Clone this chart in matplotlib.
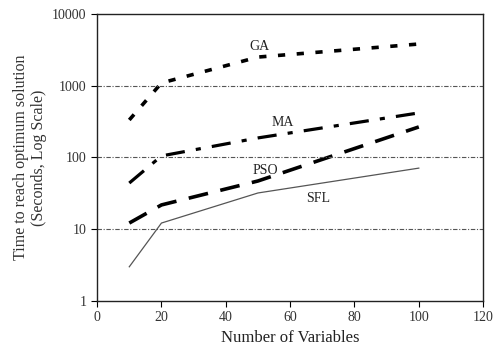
import matplotlib
matplotlib.use('Agg')
from matplotlib import pyplot as plt

# data (seconds, log scale)
variables = [10, 20, 50, 100]
ga = [333, 1090, 2500, 3800]
ma = [44, 105, 187, 417]
pso = [12.2, 21.8, 47, 266]
sfl = [3.0, 12.2, 32, 71]

plt.rcParams['font.family'] = ['Liberation Serif', 'DejaVu Serif']

fig = plt.figure(figsize=(4.93, 3.55), dpi=100)
ax = fig.add_axes([0.197, 0.152, 0.783, 0.809])

ax.plot(variables, ga, color='black', lw=2.6, dashes=(2.0, 3.2), dash_capstyle='butt')
ax.plot(variables, ma, color='black', lw=2.3, dashes=(6, 3.5, 1.6, 3.5), dash_capstyle='butt')
ax.plot(variables, pso, color='black', lw=2.6, dashes=(5.5, 3.5), dash_capstyle='butt')
ax.plot(variables, sfl, color='#555555', lw=0.9)

# series labels
ax.text(50.4, 3470, 'GA', ha='center', va='center', fontsize=10, color='#222222')
ax.text(57.8, 311, 'MA', ha='center', va='center', fontsize=10, color='#222222')
ax.text(52.2, 65, 'PSO', ha='center', va='center', fontsize=10, color='#222222')
ax.text(68.7, 26.5, 'SFL', ha='center', va='center', fontsize=10, color='#222222')

ax.set_yscale('log')
ax.set_xlim(0, 120)
ax.set_ylim(1, 10000)
ax.set_xticks([0, 20, 40, 60, 80, 100, 120])
ax.set_yticks([1, 10, 100, 1000, 10000])
ax.set_yticklabels(['1', '10', '100', '1000', '10000'])
ax.minorticks_off()
ax.tick_params(axis='both', labelsize=10, labelcolor='#333333', direction='out', length=4, width=0.8)

for v in [10, 100, 1000]:
    ax.axhline(v, color='#555555', lw=0.8, dashes=(4, 1.5, 1, 1.5))

for sp in ax.spines.values():
    sp.set_linewidth(1.0)
    sp.set_color('#222222')

ax.set_xlabel('Number of Variables', fontsize=12, color='#222222')
ax.set_ylabel('Time to reach optimum solution\n(Seconds, Log Scale)', fontsize=11.5, color='#333333', linespacing=1.1)

plt.savefig('out.png')
